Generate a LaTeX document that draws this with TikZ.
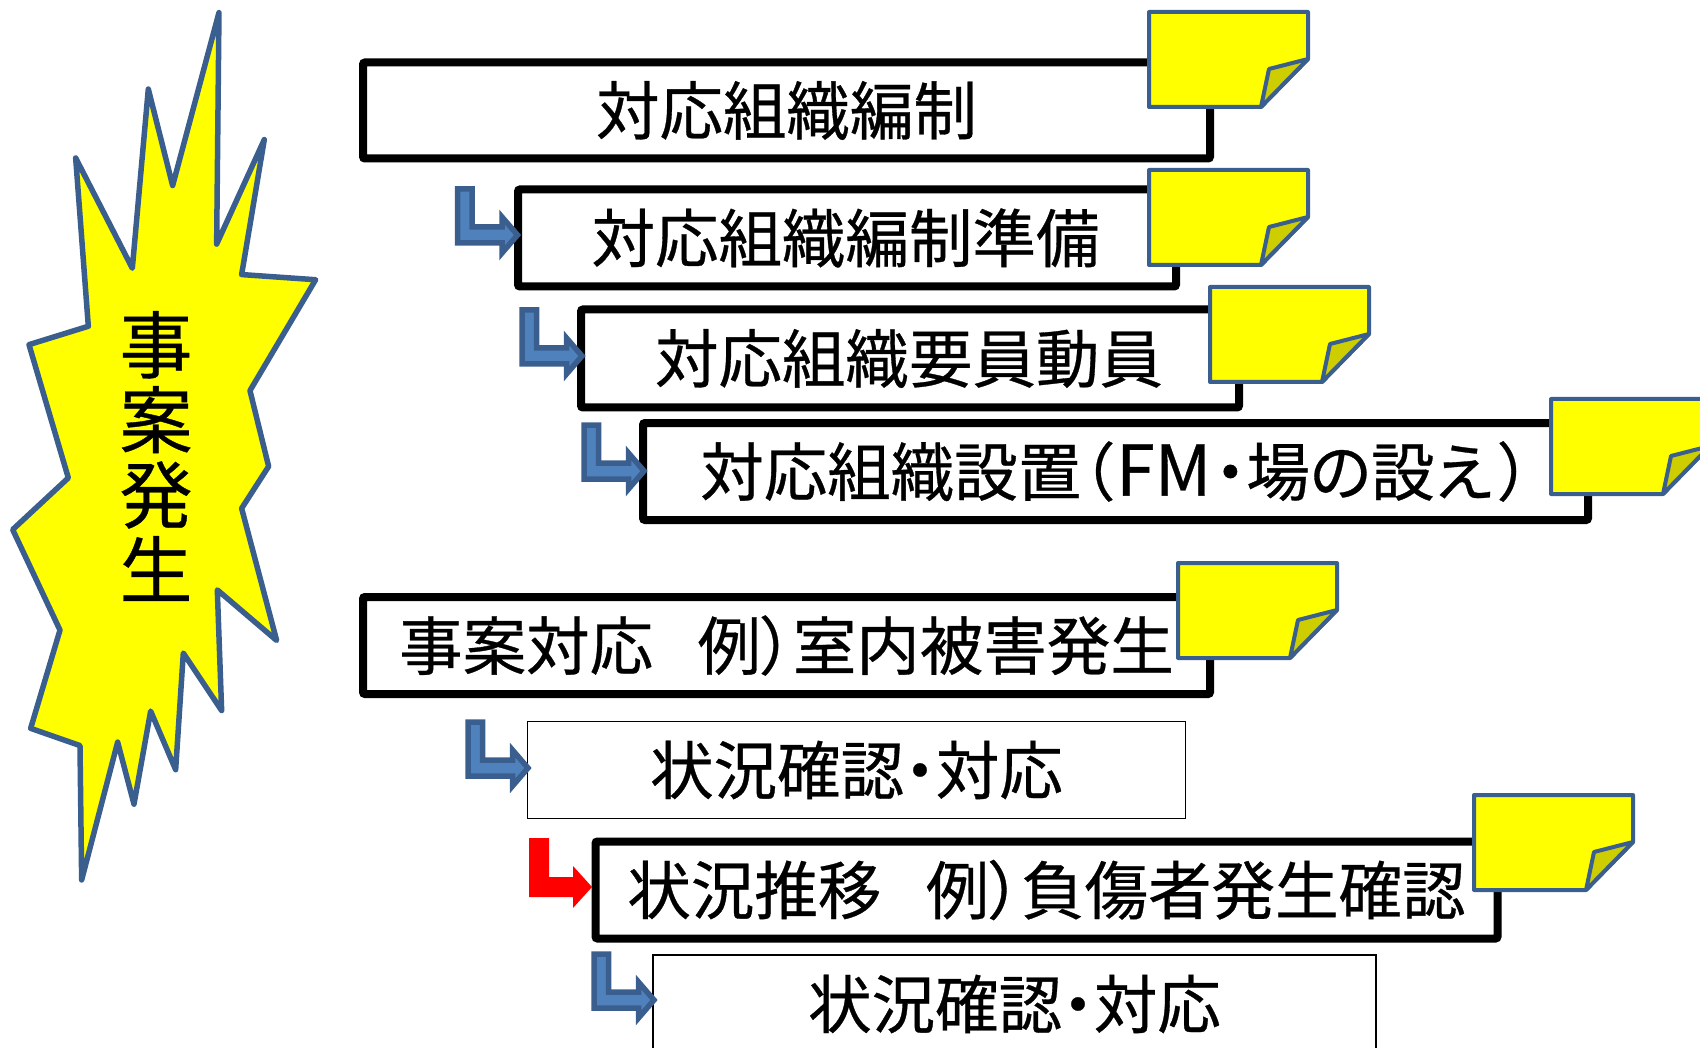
\documentclass[tikz,border=0pt]{standalone}
\usepackage{fontspec}
\setmainfont{Noto Sans CJK JP}[RawFeature=+palt,FakeBold=0.5]
\definecolor{edgeblue}{HTML}{3A5F8E}
\definecolor{arrowblue}{HTML}{4F81BD}
\definecolor{foldyellow}{HTML}{CDCD00}
\definecolor{pureyellow}{HTML}{FFFF00}
\definecolor{purered}{HTML}{FF0000}
\tikzset{
  x=1pt,y=-1pt,
  thickbox/.style={draw=black,line width=8pt,rounded corners=2pt,fill=white,inner sep=0pt,font=\fontsize{63.5}{63.5}\selectfont},
  thinbox/.style={draw=black,line width=1.4pt,fill=white,inner sep=0pt,font=\fontsize{63.5}{63.5}\selectfont},
  notepic/.pic={
    \draw[draw=edgeblue,fill=pureyellow,line width=4pt,line join=round]
      (0,0) -- (159,0) -- (159,47) -- (112,95) -- (0,95) -- cycle;
    \draw[draw=edgeblue,fill=foldyellow,line width=4pt,line join=round]
      (159,47) -- (120,57) -- (112,95) -- cycle;
  },
  bluearrow/.pic={
    \draw[draw=edgeblue,fill=arrowblue,line width=5.5pt,line join=miter]
      (0,0) -- (14.5,0) -- (14.5,38) -- (44.5,38) -- (44.5,28) -- (60,46) -- (44.5,64) -- (44.5,54) -- (0,54) -- cycle;
  },
  redarrow/.pic={
    \fill[purered] (0,0) -- (20,0) -- (20,39) -- (44,39) -- (44,28) -- (63,49) -- (44,70) -- (44,59) -- (0,59) -- cycle;
  },
}
\begin{document}
\begin{tikzpicture}
\useasboundingbox (0,0) rectangle (1700,1048);
\clip (0,0) rectangle (1700,1048);
% burst
\begin{scope}[x=0.3333pt,y=-0.5744pt]
\draw[draw=edgeblue,fill=pureyellow,line width=5.5pt,line join=round]
 (657,22)--(650,425)--(793,243)--(725,478)--(947,487)--(750,680)--(806,812)--(725,885)--(830,1115)--(652,1027)--(665,1237)--(550,1137)--(527,1340)--(452,1238)--(402,1400)--(353,1292)--(245,1532)--(240,1298)--(92,1268)--(180,1097)--(38,922)--(205,832)--(87,600)--(265,568)--(227,275)--(397,467)--(445,155)--(518,323)--cycle;
\end{scope}
\node[align=center,inner sep=0pt,font=\fontsize{73}{75}\selectfont] (burst) at (156,456) {事\\案\\発\\生};
% boxes
\node[thickbox,minimum width=847pt,minimum height=96pt] (b1) at (786.5,110.5) {対応組織編制};
\node[thickbox,minimum width=658pt,minimum height=97pt] (b2) at (847,238) {\hspace{-3pt}対応組織編制準備};
\node[thickbox,minimum width=658pt,minimum height=98pt] (b3) at (910,358.5) {\hspace{-2pt}対応組織要員動員};
\node[thickbox,minimum width=945pt,minimum height=97pt] (b4) at (1115.5,471.5) {対応組織設置（\hspace{3pt}{\fontsize{70}{63}\selectfont FM}\hspace{3pt}・場の設え\hspace{7pt}）};
\node[thickbox,minimum width=847pt,minimum height=97pt] (b5) at (786.5,645.5) {事案対応\hspace{0.7em}例）室内被害発生};
\node[thinbox,minimum width=658pt,minimum height=97pt] (b6) at (856.5,770) {状況確認・対応};
\node[thickbox,minimum width=902pt,minimum height=97pt] (b7) at (1046.5,890) {状況推移\hspace{0.7em}例）負傷者発生確認};
\node[thinbox,minimum width=723pt,minimum height=98pt] (b8) at (1014.5,1004) {状況確認・対応};
% arrows
\pic at (457.5,189) {bluearrow};
\pic at (522,310) {bluearrow};
\pic at (584,425) {bluearrow};
\pic at (468,722) {bluearrow};
\pic at (529,838) {redarrow};
\pic at (594,954) {bluearrow};
% notes
\pic at (1149,12) {notepic};
\pic at (1149,170) {notepic};
\pic at (1210,287) {notepic};
\pic at (1551,399) {notepic};
\pic at (1178,563) {notepic};
\pic at (1474,795) {notepic};
\end{tikzpicture}
\end{document}
